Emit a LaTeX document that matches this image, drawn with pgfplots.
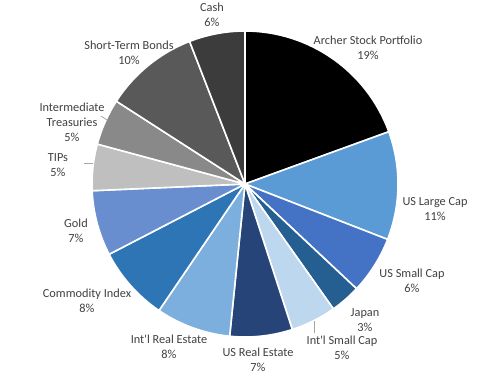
\documentclass[border=0pt]{standalone}
\usepackage{pgfplots}
\pgfplotsset{compat=1.18}
\usepackage{pgfplotstable}
\usepackage{fontspec}
\setmainfont{Carlito}
\newfontfamily\lblfont{Carlito}
\definecolor{txt}{RGB}{64,64,64}
\definecolor{lead}{RGB}{166,166,166}
\definecolor{cArcher}{RGB}{0,0,0}
\definecolor{cUSLC}{RGB}{91,155,213}
\definecolor{cUSSC}{RGB}{68,114,196}
\definecolor{cJapan}{RGB}{37,94,145}
\definecolor{cIntSC}{RGB}{189,215,238}
\definecolor{cUSRE}{RGB}{38,68,120}
\definecolor{cIntRE}{RGB}{124,175,221}
\definecolor{cComm}{RGB}{46,117,182}
\definecolor{cGold}{RGB}{105,142,208}
\definecolor{cTIPs}{RGB}{191,191,191}
\definecolor{cIT}{RGB}{137,137,137}
\definecolor{cSTB}{RGB}{89,89,89}
\definecolor{cCash}{RGB}{60,60,60}
\pgfplotstableread{
value col
19.45 cArcher
11.45 cUSLC
6.1 cUSSC
3.2 cJapan
4.8 cIntSC
6.6 cUSRE
7.9 cIntRE
7.9 cComm
6.9 cGold
4.9 cTIPs
4.9 cIT
10.0 cSTB
5.9 cCash
}\piedata
\begin{document}
\begin{tikzpicture}
\begin{axis}[width=486bp,height=377bp,scale only axis,
  xmin=0,xmax=486,ymin=0,ymax=377,y dir=reverse,hide axis,clip=false]
\path (axis cs:0,0) (axis cs:486,377);
\def\cum{0}
\pgfplotsforeachungrouped \i in {0,...,12}{%
  \pgfplotstablegetelem{\i}{value}\of\piedata \let\v\pgfplotsretval
  \pgfplotstablegetelem{\i}{col}\of\piedata \let\c\pgfplotsretval
  \pgfmathsetmacro\aS{90-3.6*\cum}%
  \pgfmathsetmacro\aE{90-3.6*(\cum+\v)}%
  \edef\temp{\noexpand\fill[fill=\c,draw=white,line width=1.6bp,line join=round] (axis cs:245,184) -- ++(\aS:153bp) arc[start angle=\aS,end angle=\aE,radius=153bp] -- cycle;}%
  \temp
  \pgfmathsetmacro\cum{\cum+\v}%
}
\draw[lead,line width=0.75bp] (axis cs:84,163) -- (axis cs:93,163);
\draw[lead,line width=0.75bp] (axis cs:101,116) -- (axis cs:107,120);
\draw[lead,line width=0.75bp] (axis cs:314,321) -- (axis cs:314,333);
\tikzset{lbl/.style={text=txt,align=center,inner sep=0pt,font=\lblfont\fontsize{12.3bp}{15bp}\selectfont}}
\node[lbl] at (axis cs:212,15) {Cash\\6\%};
\node[lbl] at (axis cs:368,48) {Archer Stock Portfolio\\19\%};
\node[lbl] at (axis cs:435,209.5) {US Large Cap\\11\%};
\node[lbl] at (axis cs:412,280.5) {US Small Cap\\6\%};
\node[lbl] at (axis cs:365,320.5) {Japan\\3\%};
\node[lbl] at (axis cs:342,347.5) {Int'l Small Cap\\5\%};
\node[lbl] at (axis cs:258,359.5) {US Real Estate\\7\%};
\node[lbl] at (axis cs:169,346.5) {Int'l Real Estate\\8\%};
\node[lbl] at (axis cs:87,300.5) {Commodity Index\\8\%};
\node[lbl] at (axis cs:76,230.5) {Gold\\7\%};
\node[lbl] at (axis cs:58,165.5) {TIPs\\5\%};
\node[lbl] at (axis cs:72,122) {Intermediate\\Treasuries\\5\%};
\node[lbl] at (axis cs:129,53) {Short-Term Bonds\\10\%};
\end{axis}
\end{tikzpicture}
\end{document}
